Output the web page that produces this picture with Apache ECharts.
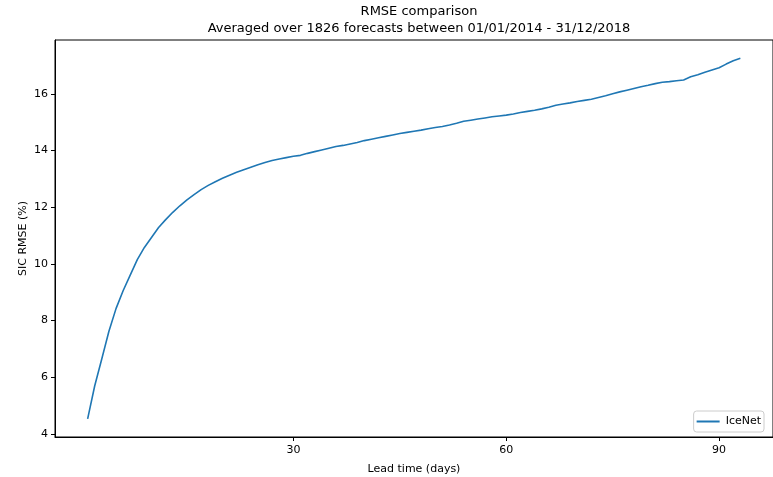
<!DOCTYPE html>
<html><head><meta charset="utf-8">
<script src="https://cdn.jsdelivr.net/npm/echarts@6/dist/echarts.min.js"></script>
<style>html,body{margin:0;padding:0;background:#fff}#c{width:773px;height:477px}</style>
</head><body><div id="c"></div>
<script>
const leadDays = Array.from({length: 93}, (_, i) => i + 1);
const iceNetRmse = [
4.53,5.70,6.65,7.62,8.42,9.05,9.60,10.15,10.58,10.93,
11.28,11.56,11.82,12.05,12.26,12.44,12.62,12.77,12.90,13.02,
13.13,13.23,13.32,13.41,13.50,13.58,13.65,13.70,13.75,13.80,
13.83,13.90,13.96,14.02,14.08,14.14,14.18,14.23,14.28,14.35,
14.40,14.45,14.50,14.55,14.60,14.64,14.68,14.72,14.77,14.81,
14.85,14.90,14.96,15.03,15.07,15.11,15.15,15.19,15.22,15.25,
15.29,15.34,15.38,15.42,15.47,15.53,15.60,15.64,15.68,15.73,
15.77,15.81,15.87,15.93,16.00,16.07,16.13,16.19,16.25,16.30,
16.36,16.41,16.43,16.46,16.49,16.60,16.67,16.76,16.84,16.92,
17.05,17.17,17.26];
const xTicks = [30, 60, 90];
const yTicks = [4, 6, 8, 10, 12, 14, 16];
const seriesName = 'IceNet';

const font = 'DejaVu Sans';
const chart = echarts.init(document.getElementById('c'));
chart.setOption({
  animation: false,
  textStyle: {fontFamily: font},
  title: {
    text: 'RMSE comparison\nAveraged over 1826 forecasts between 01/01/2014 - 31/12/2018',
    left: 414, top: -2, textAlign: 'center',
    textStyle: {fontFamily: font, fontSize: 13, fontWeight: 'normal', color: '#000', lineHeight: 17}
  },
  grid: {left: 55, top: 40, right: 0, bottom: 40, show: true, borderColor: '#000', borderWidth: 1,
         containLabel: false, outerBoundsMode: 'none'},
  legend: {
    data: [seriesName], right: 9, bottom: 45,
    backgroundColor: '#fff', borderColor: '#ccc', borderWidth: 1, borderRadius: 3,
    padding: [5, 3, 5, 3], itemWidth: 23, itemHeight: 2, itemGap: 7,
    icon: 'rect',
    textStyle: {fontFamily: font, fontSize: 11, color: '#000', padding: [0, 0, 0, 1]}
  },
  xAxis: {
    type: 'value', min: -3.6, max: 97.6,
    name: 'Lead time (days)', nameLocation: 'middle', nameGap: 27,
    nameTextStyle: {fontFamily: font, fontSize: 11, color: '#000'},
    axisLine: {show: true, onZero: false, lineStyle: {color: '#000', width: 1}},
    axisTick: {show: true, length: 4, lineStyle: {color: '#000'}, customValues: xTicks},
    axisLabel: {fontFamily: font, fontSize: 11, color: '#000', margin: 8, customValues: xTicks},
    splitLine: {show: false}
  },
  yAxis: {
    type: 'value', min: 3.89, max: 17.9,
    name: 'SIC RMSE (%)', nameLocation: 'middle', nameGap: 26, nameRotate: 90, nameMoveOverlap: false,
    nameTextStyle: {fontFamily: font, fontSize: 11, color: '#000'},
    axisLine: {show: true, onZero: false, lineStyle: {color: '#000', width: 1}},
    axisTick: {show: true, length: 4, lineStyle: {color: '#000'}, customValues: yTicks},
    axisLabel: {fontFamily: font, fontSize: 11, color: '#000', margin: 7, customValues: yTicks},
    splitLine: {show: false}
  },
  series: [{
    name: seriesName, type: 'line', showSymbol: false, symbol: 'none',
    lineStyle: {color: '#1f77b4', width: 1.6}, itemStyle: {color: '#1f77b4'},
    data: leadDays.map((d, i) => [d, iceNetRmse[i]])
  }]
});
</script></body></html>
